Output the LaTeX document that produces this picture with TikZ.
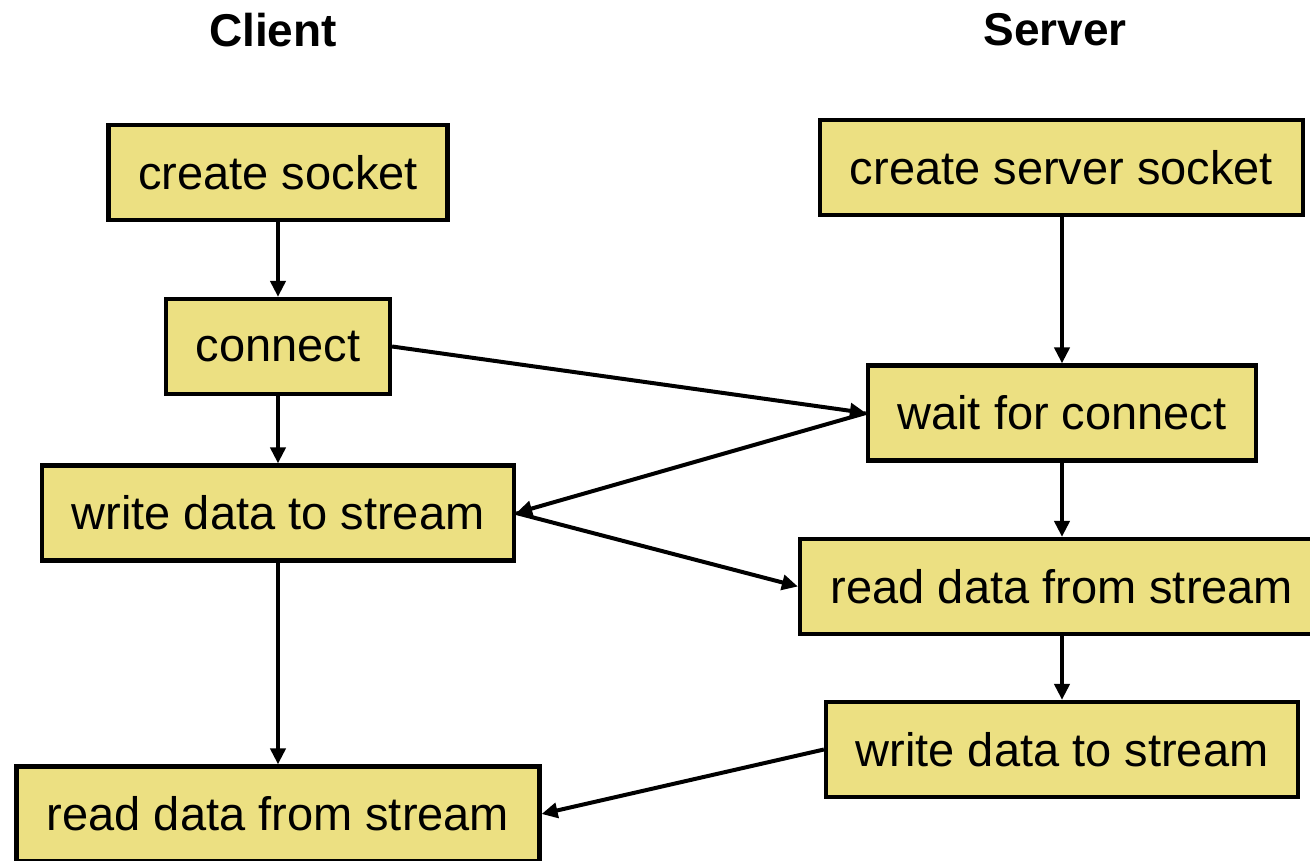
\documentclass[tikz,border=0pt]{standalone}
\usepackage{fontspec}
\setmainfont{Liberation Sans}
\usetikzlibrary{arrows.meta}
\definecolor{boxfill}{RGB}{236,224,130}
\begin{document}
\begin{tikzpicture}[x=1pt,y=-1pt,
  stepbox/.style={draw, line width=4.2pt, fill=boxfill, inner sep=0pt, minimum height=95pt, font=\fontsize{47}{56}\selectfont},
  flow/.style={line width=4pt, -{Triangle[length=16pt,width=15pt]}},
  title/.style={font=\fontsize{46}{55}\selectfont\bfseries}]
\useasboundingbox (0,0) rectangle (1310,861);
\node[title] (ct) at (273,30) {Client};
\node[title] (st) at (1055,30) {Server};
\node[stepbox, minimum width=339pt] (cs) at (278,172.5) {create socket};
\node[stepbox, minimum width=224pt] (cn) at (278,346.5) {connect};
\node[stepbox, minimum width=472pt] (cw) at (278,513) {write data to stream};
\node[stepbox, minimum width=523pt] (cr) at (278,814) {read data from stream};
\node[stepbox, minimum width=483pt] (ss) at (1061.5,167.5) {create server socket};
\node[stepbox, minimum width=388pt] (sw) at (1062,413) {wait for connect};
\node[stepbox, minimum width=524pt] (sr) at (1062,586.5) {read data from stream};
\node[stepbox, minimum width=472pt] (swr) at (1062,749.5) {write data to stream};
\draw[flow] (cs.south) -- (cn.north);
\draw[flow] (cn.south) -- (cw.north);
\draw[flow] (cw.south) -- (cr.north);
\draw[flow] (ss.south -| sw.north) -- (sw.north);
\draw[flow] (sw.south) -- (sr.north);
\draw[flow] (sr.south) -- (swr.north);
\draw[flow] (cn.east) -- (sw.west);
\draw[flow] (sw.west) -- (cw.east);
\draw[flow] (cw.east) -- (sr.west);
\draw[flow] (swr.west) -- (cr.east);
\end{tikzpicture}
\end{document}
